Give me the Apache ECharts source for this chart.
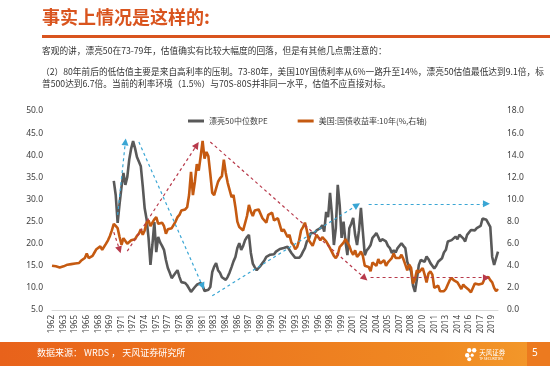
<!DOCTYPE html>
<html><head><meta charset="utf-8">
<script src="https://cdn.jsdelivr.net/npm/echarts@6/dist/echarts.min.js"></script>
<style>html,body{margin:0;padding:0;background:#fff}#c{width:550px;height:366px}</style>
</head><body><div id="c"></div>
<script>
// ---- data (quarterly, 1962Q1 .. 2019Q4) ----
const startYear = 1962, endYear = 2019;
const categories = [];
for (let y = startYear; y <= endYear; y++) for (let q = 0; q < 4; q++) categories.push(String(y));

const seriesNames = ['漂亮50中位数PE', '美国:国债收益率:10年(%,右轴)'];

const peData = [
 null,null,null,null, null,null,null,null, null,null,null,null, null,null,null,null,
 null,null,null,null, null,null,null,null, null,null,null,null, null,null,null,null,
 34.2,31.0,24.7,29.0, //1970
 32.8,36.0,33.3,35.1,
 39.0,41.5,43.2,41.6,
 39.6,40.0,37.5,33.0,
 28.0,25.5,21.3,15.2,
 19.7,24.9,18.1,21.5,
 20.3,19.5,18.6,16.3,
 14.5,13.4,12.2,12.8,
 13.4,14.0,12.5,11.3,
 11.3,11.1,10.6,10.2,
 9.1,9.5,10.2,10.7, //1980
 10.9,11.1,10.5,9.3,
 9.1,9.6,10.2,13.6,
 14.8,15.6,14.0,13.4,
 12.4,12.0,11.8,12.5,
 13.5,14.7,16.0,17.0,
 19.0,20.1,18.6,19.5,
 20.8,21.5,22.0,17.9,
 15.5,14.7,14.0,14.5,
 15.0,15.6,16.2,17.0,
 17.0,17.5,17.9,17.6, //1990
 18.2,18.6,18.8,19.0,
 19.0,19.3,19.3,19.0,
 17.9,17.5,16.8,17.0,
 16.8,17.3,18.2,19.0,
 20.5,21.0,22.4,22.0,
 22.4,23.0,23.1,23.5,
 24.2,22.7,27.2,26.0,
 31.5,26.5,19.7,23.5,
 33.3,28.7,21.3,25.0,
 20.5,17.4,23.5,24.5, //2000
 25.8,22.0,19.7,23.0,
 28.1,22.7,17.4,18.5,
 19.0,19.7,21.3,21.8,
 22.4,21.5,20.5,21.0,
 21.3,20.5,19.5,19.0,
 17.9,18.5,18.0,19.0,
 19.3,20.1,19.5,19.0,
 15.9,15.5,13.7,10.5,
 9.1,12.0,15.2,16.3,
 16.0,15.9,17.1,16.5, //2010
 15.6,16.0,14.4,15.0,
 15.9,16.2,16.7,18.0,
 18.6,20.5,20.1,20.8,
 21.2,21.6,21.0,22.0,
 22.0,21.2,20.5,22.0,
 22.0,23.1,22.7,23.0,
 23.5,23.8,24.0,25.7,
 25.7,25.4,24.6,23.8,
 17.0,15.2,15.6,18.2 //2019
];

const yieldData = [
 4.0,3.95,3.95,3.85, //1962
 3.85,3.9,3.95,4.0,
 4.1,4.15,4.15,4.15,
 4.2,4.2,4.25,4.45,
 4.6,4.7,5.1,4.7,
 4.6,4.9,5.2,5.5,
 5.6,5.75,5.45,5.6,
 6.0,6.3,6.7,7.2,
 7.8,7.6,7.4,6.6, //1970
 5.9,6.5,6.4,6.0,
 6.1,6.3,6.4,6.4,
 6.7,6.9,7.3,6.8,
 7.2,7.9,8.1,7.6,
 7.6,8.2,8.4,7.8,
 7.9,7.9,7.6,6.9,
 7.3,7.3,7.4,7.7,
 8.0,8.4,8.6,9.0,
 9.1,9.1,9.3,10.4,
 12.5,10.4,11.6,13.2, //1980
 12.6,13.9,15.3,13.7,
 14.3,13.9,12.3,10.6,
 10.4,11.0,11.6,11.9,
 12.1,13.6,12.4,11.5,
 11.6,10.2,10.4,9.3,
 8.0,7.5,7.4,7.2,
 7.3,8.5,9.5,8.9,
 8.5,9.0,9.1,9.1,
 9.2,8.3,8.2,7.9,
 8.6,8.5,8.8,8.1, //1990
 8.2,8.3,7.7,7.1,
 7.3,7.3,6.6,6.8,
 6.1,5.9,5.5,5.7,
 6.3,7.2,7.5,7.9,
 7.2,6.3,6.2,5.8,
 6.3,6.8,6.8,6.3,
 6.6,6.6,6.2,5.9,
 5.6,5.6,4.9,4.7,
 5.0,5.7,5.9,6.1,
 6.4,6.1,5.8,5.3, //2000
 5.0,5.4,4.8,5.0,
 5.3,4.9,4.0,4.0,
 3.9,3.5,4.3,4.3,
 4.0,4.6,4.2,4.2,
 4.5,4.0,4.3,4.5,
 4.7,5.1,4.7,4.6,
 4.7,5.0,4.6,4.1,
 3.6,4.1,3.8,2.4,
 2.8,3.6,3.4,3.6,
 3.8,3.2,2.5,3.3, //2010
 3.5,3.2,2.0,2.0,
 2.2,1.7,1.7,1.7,
 1.9,2.3,2.7,2.9,
 2.7,2.6,2.5,2.2,
 1.9,2.3,2.1,2.2,
 1.8,1.6,1.6,2.4,
 2.4,2.3,2.3,2.4,
 2.8,2.9,3.0,2.7,
 2.5,2.0,1.7,1.9 //2019
];

// annotation arrows: [start [categoryIndex, PE], end [categoryIndex, PE]] on left axis
const arrowsBlue = [
 [[34, 26.5], [38, 43.0]],
 [[45, 43.0], [78, 10.4]],
 [[83, 8.2], [158, 28.7]],
 [[164, 29.0], [225, 29.0]]
];
const arrowsRed = [
 [[32, 22.6], [35, 18.6]],
 [[39, 18.3], [75, 42.3]],
 [[82, 43.0], [162, 12.2]],
 [[165, 12.3], [225, 12.3]]
];

const titleText = '事实上情况是这样的:';
const para1 = '客观的讲，漂亮50在73-79年，估值确实有比较大幅度的回落，但是有其他几点需注意的：';
const para2a = '（2）80年前后的低估值主要是来自高利率的压制。73-80年，美国10Y国债利率从6%一路升至14%，漂亮50估值最低达到9.1倍，标';
const para2b = '普500达到6.7倍。当前的利率环境（1.5%）与70S-80S并非同一水平，估值不应直接对标。';
const sourceText = '数据来源： WRDS ， 天风证券研究所';
const pageNo = '5';

// ---- chart ----
const FONT = "'Noto Sans','Noto Sans CJK SC',sans-serif";
const CJK = "'Noto Sans CJK SC','Noto Sans',sans-serif";
function arrowLines(list, color, headColor) {
  return list.map(a => [
    {coord: a[0], symbol: 'none'},
    {coord: a[1], symbol: 'triangle', symbolSize: 7, itemStyle: {color: headColor}, lineStyle: {color: color}}
  ]);
}
const chart = echarts.init(document.getElementById('c'), null, {renderer: 'canvas'});
chart.setOption({
  animation: false,
  backgroundColor: '#fff',
  textStyle: {fontFamily: FONT},
  grid: {left: 52, right: 52, top: 111, bottom: 56},
  legend: {
    top: 112, left: 183, itemGap: 30, icon: 'rect', itemWidth: 16, itemHeight: 3,
    textStyle: {fontSize: 8, color: '#404040', fontFamily: CJK},
    data: seriesNames
  },
  xAxis: {
    type: 'category', data: categories, boundaryGap: false,
    axisLine: {lineStyle: {color: '#D9D9D9'}},
    axisTick: {show: false},
    axisLabel: {interval: 5, rotate: 90, fontSize: 8, color: '#404040', margin: 5}
  },
  yAxis: [
    {type: 'value', min: 5, max: 50, interval: 5, splitLine: {show: false},
     axisLine: {show: false}, axisTick: {show: false},
     axisLabel: {fontSize: 8.5, color: '#404040', margin: 9, formatter: v => v.toFixed(1)}},
    {type: 'value', min: 0, max: 18, interval: 2, splitLine: {show: false},
     axisLine: {show: false}, axisTick: {show: false},
     axisLabel: {fontSize: 8.5, color: '#404040', margin: 9, formatter: v => v.toFixed(1)}}
  ],
  series: [
    {name: seriesNames[0], type: 'line', yAxisIndex: 0, data: peData, symbol: 'none',
     lineStyle: {width: 2.6, color: '#595959'}, itemStyle: {color: '#595959'},
     markLine: {silent: true, animation: false, label: {show: false},
       lineStyle: {type: [3, 3], width: 1.2},
       data: arrowLines(arrowsBlue, '#3AA6D4', '#2E9CD6').concat(arrowLines(arrowsRed, '#B83A4B', '#E3201F'))}},
    {name: seriesNames[1], type: 'line', yAxisIndex: 1, data: yieldData, symbol: 'none',
     lineStyle: {width: 2.6, color: '#C55A11'}, itemStyle: {color: '#C55A11'}}
  ],
  graphic: [
    {type: 'text', left: 42, top: 8, style: {text: titleText, fontSize: 18, fontWeight: 'bold', fill: '#D9541E', fontFamily: CJK}},
    {type: 'rect', shape: {x: 42, y: 35, width: 508, height: 3}, style: {fill: '#D9541E'}},
    {type: 'text', left: 42, top: 46, style: {text: para1, fontSize: 8.7, fill: '#333', fontFamily: CJK}},
    {type: 'text', left: 41, top: 67, style: {text: para2a, fontSize: 8.7, fill: '#333', fontFamily: CJK}},
    {type: 'text', left: 42, top: 79, style: {text: para2b, fontSize: 8.7, fill: '#333', fontFamily: CJK}},
    {type: 'rect', shape: {x: 0, y: 342, width: 550, height: 24},
     style: {fill: new echarts.graphic.LinearGradient(0, 0, 1, 0, [{offset: 0, color: '#E8621B'}, {offset: 0.8, color: '#F08A22'}, {offset: 1, color: '#F39A2C'}])}},
    {type: 'rect', shape: {x: 527, y: 342, width: 23, height: 24}, style: {fill: '#EC7A1F'}},
    {type: 'text', left: 37, top: 348, style: {text: sourceText, fontSize: 9, fill: '#fff', fontFamily: CJK}},
    {type: 'text', left: 532, top: 348, style: {text: pageNo, fontSize: 10, fill: '#fff', fontFamily: FONT}},
    {type: 'group', left: 465, top: 348, children: [
      {type: 'circle', shape: {cx: 4, cy: 3, r: 2.2}, style: {fill: '#fff'}},
      {type: 'circle', shape: {cx: 9, cy: 3, r: 2.2}, style: {fill: '#fff'}},
      {type: 'circle', shape: {cx: 2, cy: 8, r: 2.2}, style: {fill: '#fff'}},
      {type: 'circle', shape: {cx: 7, cy: 8, r: 1.6}, style: {fill: '#fff'}},
      {type: 'circle', shape: {cx: 4, cy: 12, r: 2}, style: {fill: '#fff'}},
      {type: 'text', x: 14, y: 2, style: {text: '天风证券', fontSize: 6.5, fill: '#fff', fontFamily: CJK}},
      {type: 'text', x: 14, y: 10, style: {text: 'TF SECURITIES', fontSize: 3.5, fill: '#fff', fontFamily: FONT}}
    ]}
  ]
});
</script></body></html>
